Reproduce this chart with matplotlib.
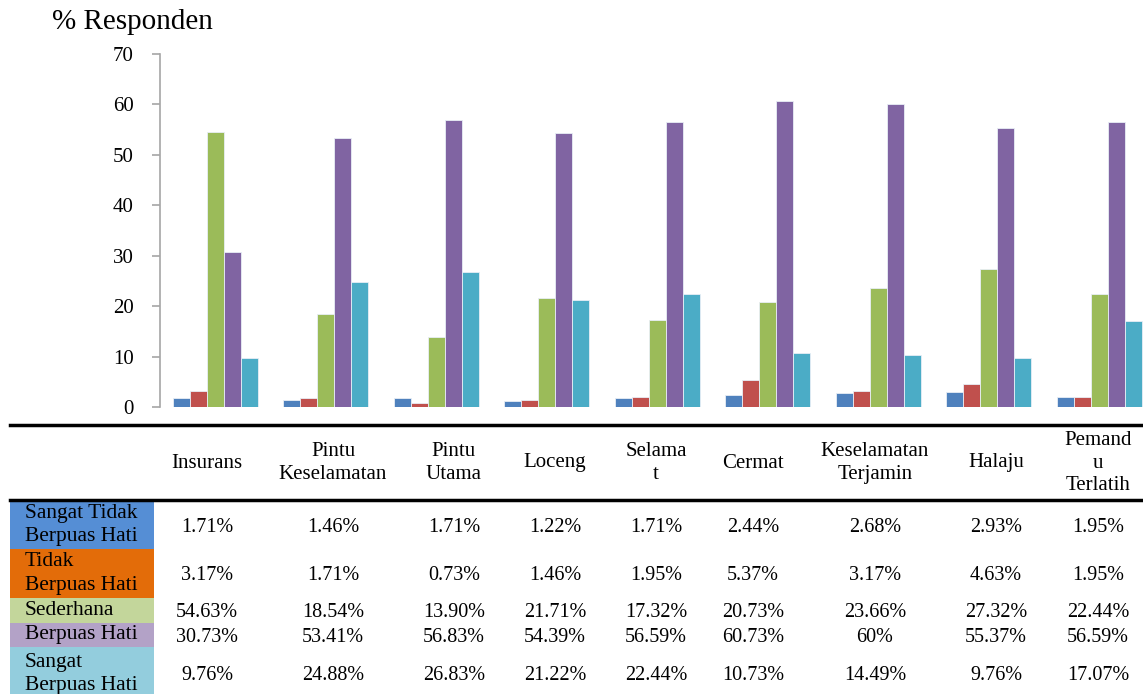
import matplotlib
matplotlib.use("Agg")
import matplotlib.pyplot as plt
import numpy as np
from matplotlib.patches import Rectangle
from matplotlib.lines import Line2D

plt.rcParams['font.family'] = ['Liberation Serif', 'DejaVu Serif']

# data
categories = ["Insurans", "Pintu\nKeselamatan", "Pintu\nUtama", "Loceng", "Selama\nt",
              "Cermat", "Keselamatan\nTerjamin", "Halaju", "Pemand\nu\nTerlatih"]
series_names = ["Sangat Tidak\nBerpuas Hati", "Tidak\nBerpuas Hati", "Sederhana",
                "Berpuas Hati", "Sangat\nBerpuas Hati"]

sangat_tidak = [1.71, 1.46, 1.71, 1.22, 1.71, 2.44, 2.68, 2.93, 1.95]
tidak = [3.17, 1.71, 0.73, 1.46, 1.95, 5.37, 3.17, 4.63, 1.95]
sederhana = [54.63, 18.54, 13.90, 21.71, 17.32, 20.73, 23.66, 27.32, 22.44]
berpuas = [30.73, 53.41, 56.83, 54.39, 56.59, 60.73, 60.0, 55.37, 56.59]
sangat_berpuas = [9.76, 24.88, 26.83, 21.22, 22.44, 10.73, 10.4, 9.76, 17.07]

table_rows = [
    ["1.71%", "1.46%", "1.71%", "1.22%", "1.71%", "2.44%", "2.68%", "2.93%", "1.95%"],
    ["3.17%", "1.71%", "0.73%", "1.46%", "1.95%", "5.37%", "3.17%", "4.63%", "1.95%"],
    ["54.63%", "18.54%", "13.90%", "21.71%", "17.32%", "20.73%", "23.66%", "27.32%", "22.44%"],
    ["30.73%", "53.41%", "56.83%", "54.39%", "56.59%", "60.73%", "60%", "55.37%", "56.59%"],
    ["9.76%", "24.88%", "26.83%", "21.22%", "22.44%", "10.73%", "14.49%", "9.76%", "17.07%"],
]

bar_colors = ["#4F81BD", "#C0504D", "#9BBB59", "#8064A2", "#4BACC6"]
cell_colors = ["#558ED5", "#E36C09", "#C3D69B", "#B3A2C7", "#93CDDD"]

W, H = 1143, 694
fig = plt.figure(figsize=(W / 100, H / 100), dpi=100)


def fx(px):
    return px / W


def fy(py):
    return 1 - py / H


# chart
ax = fig.add_axes([fx(160), fy(407), 9 * 110.5 / W, (407 - 54) / H])
x = np.arange(len(categories))
bw = 0.154
all_series = [sangat_tidak, tidak, sederhana, berpuas, sangat_berpuas]
for i, (vals, c) in enumerate(zip(all_series, bar_colors)):
    ax.bar(x + (i - 2) * bw, vals, bw, color=c, edgecolor="#E8EEF6", linewidth=0.6)

ax.set_xlim(-0.5, 8.5)
ax.set_ylim(0, 70)
ax.set_yticks(range(0, 71, 10))
ax.set_xticks([])
for s in ["top", "right", "bottom"]:
    ax.spines[s].set_visible(False)
ax.spines["left"].set_color("#A6A6A6")
ax.spines["left"].set_linewidth(1.2)
ax.tick_params(axis="y", length=6, width=1.2, color="#A6A6A6", pad=13, labelsize=15)

fig.text(fx(52), fy(22), "% Responden", fontsize=21, ha="left", va="center")

# table
fig.add_artist(Line2D([fx(10), fx(1143)], [fy(425), fy(425)], color="black", lw=2.5))
fig.add_artist(Line2D([fx(10), fx(1143)], [fy(500), fy(500)], color="black", lw=2.5))

col_x = [207, 333, 454, 555, 656, 753, 875, 996, 1098]
row_edges = [501, 549, 598, 623, 647, 700]

for cx, name in zip(col_x, categories):
    fig.text(fx(cx), fy(463), name, fontsize=15, ha="center", va="center",
             multialignment="center", linespacing=1.22)

for r in range(5):
    top, bot = row_edges[r], row_edges[r + 1]
    fig.add_artist(Rectangle((fx(10), fy(bot)), fx(154 - 10), (bot - top) / H,
                             facecolor=cell_colors[r], edgecolor="none"))
    yc = (top + bot) / 2 if r < 4 else 674
    fig.text(fx(25), fy(yc), series_names[r], fontsize=15.5, ha="left", va="center",
             linespacing=1.3)
    for cx, val in zip(col_x, table_rows[r]):
        fig.text(fx(cx), fy(yc + 2), val, fontsize=14.5, ha="center", va="center")

fig.savefig("out.png", dpi=100)
